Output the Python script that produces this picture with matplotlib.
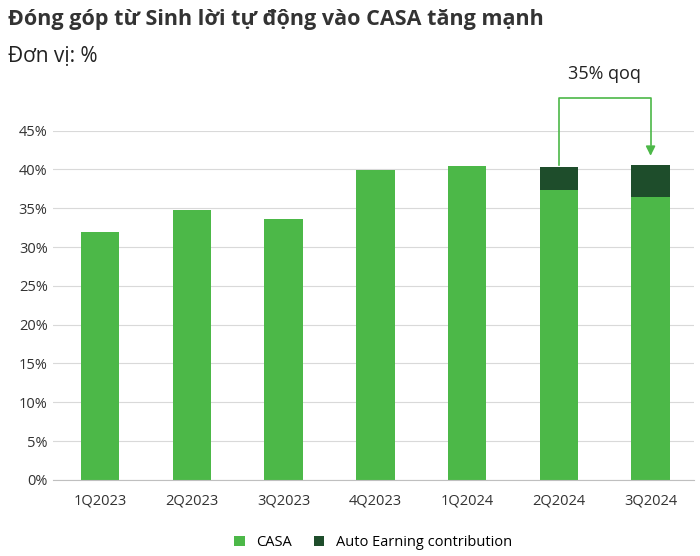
import matplotlib
matplotlib.use("Agg")
import matplotlib.pyplot as plt
from matplotlib.ticker import PercentFormatter

categories = ["1Q2023", "2Q2023", "3Q2023", "4Q2023", "1Q2024", "2Q2024", "3Q2024"]
casa = [32.0, 34.8, 33.6, 39.9, 40.5, 37.4, 36.5]
auto_earning = [0, 0, 0, 0, 0, 2.9, 4.1]
yticks = [0, 5, 10, 15, 20, 25, 30, 35, 40, 45]

plt.rcParams["font.family"] = "Open Sans"
fig = plt.figure(figsize=(7.0, 5.56), dpi=100)
ax = fig.add_axes([0.075, 0.137, 0.916, 0.628])
x = range(len(categories))
ax.bar(x, casa, width=0.42, color="#4cb848", label="CASA")
ax.bar(x, auto_earning, width=0.42, bottom=casa, color="#1e4d2b", label="Auto Earning contribution")
ax.set_ylim(0, 45)
ax.set_xlim(-0.52, 6.47)
ax.set_yticks(yticks)
ax.yaxis.set_major_formatter(PercentFormatter(decimals=0))
ax.set_xticks(list(x))
ax.set_xticklabels(categories)
ax.grid(axis="y", color="#d9d9d9", linewidth=0.8)
ax.set_axisbelow(True)
for s in ["top", "right", "left"]:
    ax.spines[s].set_visible(False)
ax.spines["bottom"].set_color("#bfbfbf")
ax.tick_params(length=0, labelsize=10.5, colors="#333333")
ax.tick_params(axis="x", pad=10)

# arrow annotation
top2 = casa[5] + auto_earning[5]
top3 = casa[6] + auto_earning[6]
ax.plot([5, 5, 6, 6], [top2 + 0.3, 49.2, 49.2, top3 + 2.5], color="#4cb848", lw=1.2, clip_on=False)
ax.annotate("", xy=(6, top3 + 0.8), xytext=(6, top3 + 2.6),
            arrowprops=dict(arrowstyle="-|>", color="#4cb848", lw=1.2, mutation_scale=14), annotation_clip=False)
ax.text(5.5, 52.3, "35% qoq", ha="center", va="center", fontsize=13, color="#222222", clip_on=False)

fig.text(0.012, 0.965, "Đóng góp từ Sinh lời tự động vào CASA tăng mạnh", fontsize=15.5, fontweight="bold", color="#333333", va="center")
fig.text(0.012, 0.898, "Đơn vị: %", fontsize=15, color="#222222", va="center")

ax.legend(loc="upper center", bbox_to_anchor=(0.5, -0.12), ncol=2, frameon=False, fontsize=10.5,
          handlelength=0.7, handleheight=0.7, columnspacing=1.5)
fig.savefig("out.png", dpi=100)
